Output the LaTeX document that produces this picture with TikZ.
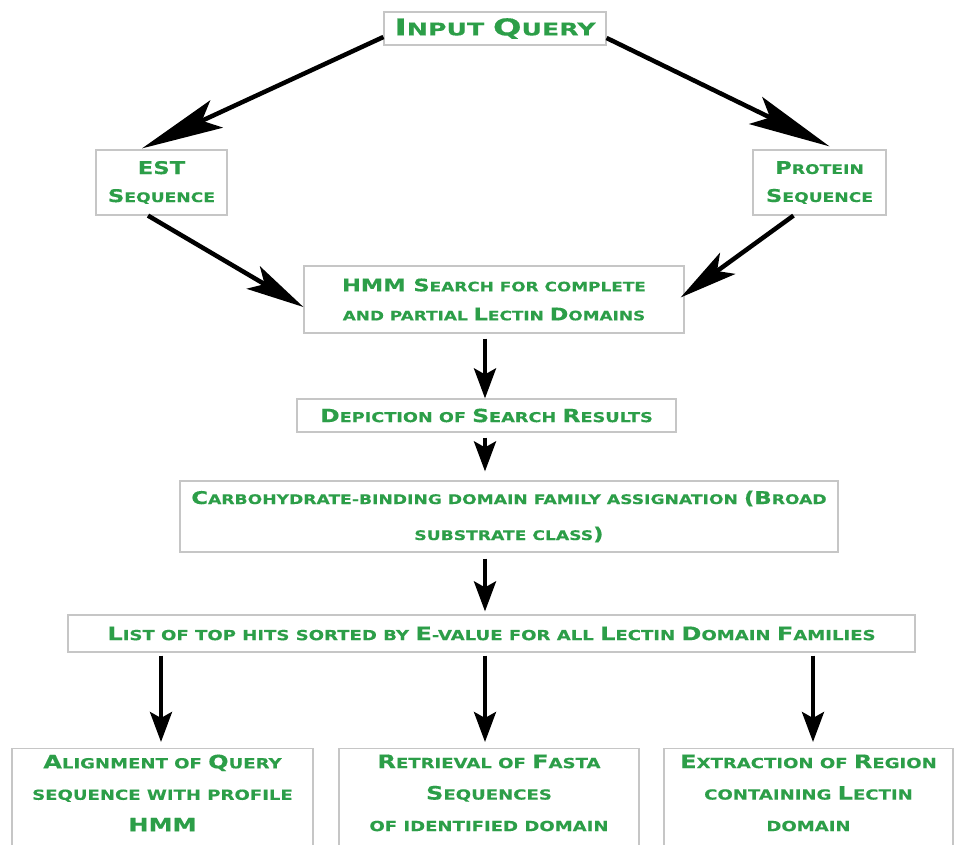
\documentclass[tikz,border=0pt]{standalone}
\usepackage{fontspec}
\usepackage{graphicx}
\usetikzlibrary{arrows.meta}
\newfontfamily\cp[FakeStretch=1.3,FakeBold=0.3]{DejaVu Sans}
\newfontfamily\cpq[FakeStretch=1.45,FakeBold=0.3]{DejaVu Sans}
\definecolor{tgreen}{RGB}{44,158,72}
\definecolor{bgray}{RGB}{198,198,198}
\newcommand\C[1]{\scalebox{1.33}{#1}}
\tikzset{
  box/.style={draw=bgray, line width=1.2pt, fill=white, text=tgreen, align=center, inner sep=0pt},
  fs/.style 2 args={font=\cp\bfseries\fontsize{#1}{#2}\selectfont},
  arrbig/.style={-{Stealth[length=82pt,width=30pt,inset=16pt]}, line width=4.5pt},
  arrmid/.style={-{Stealth[length=58pt,width=26pt,inset=13pt]}, line width=4.5pt},
  arrv/.style={-{Stealth[length=30pt,width=22pt,inset=6pt]}, line width=4pt},
}
\begin{document}
\begin{tikzpicture}[x=1pt,y=-1pt]
\useasboundingbox (0,0) rectangle (954,845);
\fill[white] (0,0) rectangle (954,845);

\node[box, minimum width=222pt, minimum height=33pt, font=\cpq\bfseries\fontsize{17.4}{18}\selectfont] (query) at (495,28.5) {\C{I}NPUT \C{Q}UERY};
\node[box, fs={13.2}{28}, minimum width=131pt, minimum height=65pt] (est) at (161.5,182.5) {\C{EST}\\\C{S}EQUENCE};
\node[box, fs={13.2}{28}, minimum width=133pt, minimum height=65pt] (prot) at (819.5,182.5) {\C{P}ROTEIN\\\C{S}EQUENCE};
\node[box, fs={13}{29}, minimum width=380pt, minimum height=67pt] (hmm) at (494,299.5) {\C{HMM S}EARCH FOR COMPLETE\\AND PARTIAL \C{L}ECTIN \C{D}OMAINS};
\node[box, fs={13.6}{20}, minimum width=379pt, minimum height=33pt] (dep) at (486.5,415.5) {\C{D}EPICTION OF \C{S}EARCH \C{R}ESULTS};
\node[box, fs={13.2}{36}, minimum width=658pt, minimum height=71pt] (carb) at (509,516.5) {\C{C}ARBOHYDRATE-BINDING DOMAIN FAMILY ASSIGNATION \C{(B}ROAD\\SUBSTRATE CLASS\C{)}};
\node[box, fs={13.9}{20}, minimum width=847pt, minimum height=37pt] (list) at (491.5,633.5) {\C{L}IST OF TOP HITS SORTED BY \C{E}-VALUE FOR ALL \C{L}ECTIN \C{D}OMAIN \C{F}AMILIES};

\node[box, fs={13.9}{31.5}, anchor=north] (aln) at (162.5,748) {\parbox[c][130pt][t]{301pt}{\vspace*{6pt}\centering \C{A}LIGNMENT OF \C{Q}UERY\\SEQUENCE WITH PROFILE\\\C{HMM}\par}};
\node[box, fs={13.9}{31.5}, anchor=north] (ret) at (489,748) {\parbox[c][130pt][t]{300pt}{\vspace*{6pt}\centering \C{R}ETRIEVAL OF \C{F}ASTA\\\C{S}EQUENCES\\OF IDENTIFIED DOMAIN\par}};
\node[box, fs={13.9}{31.5}, anchor=north] (ext) at (808.5,748) {\parbox[c][130pt][t]{289pt}{\vspace*{6pt}\centering \C{E}XTRACTION OF \C{R}EGION\\CONTAINING \C{L}ECTIN\\DOMAIN\par}};

\coordinate (c1) at (161,0);
\coordinate (c2) at (485,0);
\coordinate (c3) at (813,0);

\draw[arrbig] ([yshift=-8.5pt]query.west) -- ([xshift=-19.5pt,yshift=1pt]est.north);
\draw[arrbig] ([yshift=-9.5pt]query.east) -- ([xshift=10pt,yshift=3pt]prot.north);
\draw[arrmid] ([xshift=-13.5pt]est.south) -- ([yshift=-7.5pt]hmm.west);
\draw[arrmid] ([xshift=-26pt]prot.south) -- ([xshift=-4pt,yshift=2pt]hmm.east);

\draw[arrv, shorten <=5pt] (hmm.south -| c2) -- (dep.north -| c2);
\draw[arrv, shorten <=5pt, shorten >=9pt] (dep.south -| c2) -- (carb.north -| c2);
\draw[arrv, shorten <=6pt, shorten >=3pt] (carb.south -| c2) -- (list.north -| c2);
\draw[arrv, shorten <=3pt, shorten >=6pt] (list.south -| c1) -- (aln.north -| c1);
\draw[arrv, shorten <=3pt, shorten >=6pt] (list.south -| c2) -- (ret.north -| c2);
\draw[arrv, shorten <=3pt, shorten >=6pt] (list.south -| c3) -- (ext.north -| c3);
\end{tikzpicture}
\end{document}
